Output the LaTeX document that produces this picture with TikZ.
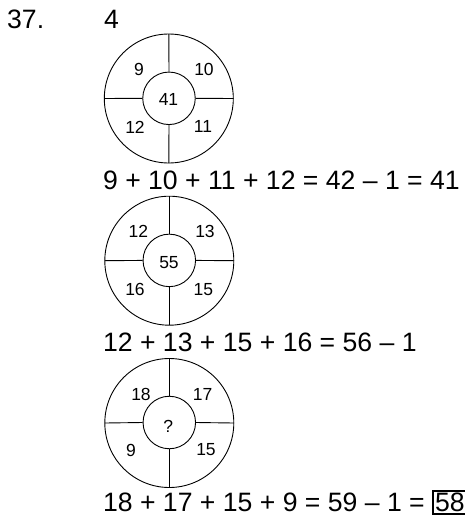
\documentclass[tikz,border=0pt]{standalone}
\usepackage{fontspec}
\setmainfont{Liberation Sans}
\begin{document}
\begin{tikzpicture}[x=1pt,y=-1pt,
  eq/.style={anchor=base west, inner sep=0pt, font=\fontsize{26.6}{30}\selectfont},
  lab/.style={inner sep=0pt, font=\fontsize{17.5}{20}\selectfont},
  ring/.style={circle, draw, line width=0.9pt, inner sep=0pt, outer sep=0pt, minimum size=129pt},
  hub/.style={circle, draw, line width=0.9pt, inner sep=0pt, minimum size=52.5pt},
  spoke/.style={line width=0.9pt}]
\useasboundingbox (0,0) rectangle (464,523);

\node[eq] (num) at (7,28.3) {37.};
\node[eq] (ans) at (103.8,28.3) {4};

% circle 1
\node[ring] (r1) at (168.8,98.5) {};
\node[hub] (h1) at (169,98.3) {};
\foreach \a in {north,south,east,west} \draw[spoke] (h1.\a) -- (r1.\a);
\node[lab] (a1) at (139,69) {9};
\node[lab] (b1) at (204,69) {10};
\node[lab] (c1) at (168.5,99) {41};
\node[lab] (d1) at (135,127) {12};
\node[lab] (f1) at (203,126) {11};
\node[eq] (e1) at (102.9,189.3) {9 + 10 + 11 + 12 = 42 – 1 = 41};

% circle 2
\node[ring] (r2) at (169.3,260.7) {};
\node[hub] (h2) at (169.3,260.4) {};
\foreach \a in {north,south,east,west} \draw[spoke] (h2.\a) -- (r2.\a);
\node[lab] (a2) at (138.3,231.7) {12};
\node[lab] (b2) at (205,231.7) {13};
\node[lab] (c2) at (169,263) {55};
\node[lab] (d2) at (135,289.3) {16};
\node[lab] (f2) at (203.3,289.3) {15};
\node[eq] (e2) at (102.9,351.7) {12 + 13 + 15 + 16 = 56 – 1};

% circle 3
\node[ring] (r3) at (169.3,423) {};
\node[hub] (h3) at (169.3,422.5) {};
\foreach \a in {north,south,east,west} \draw[spoke] (h3.\a) -- (r3.\a);
\node[lab] (a3) at (141,394.3) {18};
\node[lab] (b3) at (202.7,394.3) {17};
\node[lab] (c3) at (168.3,426) {?};
\node[lab] (d3) at (131,450) {9};
\node[lab] (f3) at (206,449.3) {15};
\node[eq] (e3) at (102.9,511.7) {18 + 17 + 15 + 9 = 59 – 1 = {\setlength\fboxsep{1.5pt}\setlength\fboxrule{1.4pt}\fbox{58}}};
\end{tikzpicture}
\end{document}
